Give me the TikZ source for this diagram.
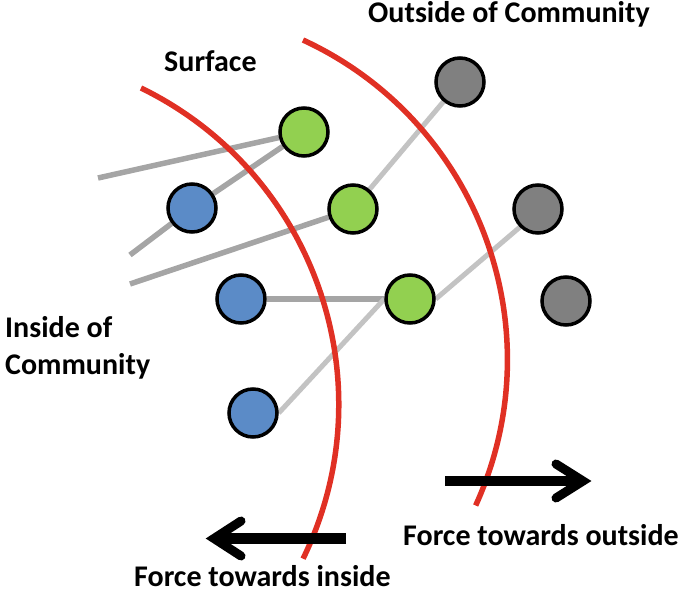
\documentclass[tikz,border=0pt]{standalone}
\usepackage{fontspec}
\setmainfont{Carlito}
\pgfdeclarelayer{bg}
\pgfsetlayers{bg,main}
\begin{document}
\begin{tikzpicture}[x=1pt,y=-1pt,
  nd/.style={circle,draw=black,line width=3.5pt,minimum size=48pt,inner sep=0pt},
  bluen/.style={nd,fill=blueC},
  greenn/.style={nd,fill=greenC},
  grayn/.style={nd,fill=grayC},
  darkedge/.style={draw=edgeD,line width=5.5pt},
  lightedge/.style={draw=edgeL,line width=5pt},
  boundary/.style={draw=redC,line width=5.5pt},
  force/.style={line width=10.5pt,black},
  barb/.style={line width=9pt,black,line cap=round,line join=miter},
  lbl/.style={font=\bfseries\fontsize{30}{37}\selectfont,inner sep=0pt,anchor=base west}]
\definecolor{blueC}{RGB}{91,139,199}
\definecolor{greenC}{RGB}{146,208,80}
\definecolor{grayC}{RGB}{128,128,128}
\definecolor{edgeD}{RGB}{165,165,165}
\definecolor{edgeL}{RGB}{195,195,195}
\definecolor{redC}{RGB}{224,48,36}
\useasboundingbox (0,0) rectangle (685,593);
% nodes
\node[grayn]  (gr1) at (460,82)  {};
\node[greenn] (g1)  at (304,132) {};
\node[bluen]  (b1)  at (192,208) {};
\node[greenn] (g2)  at (353,209) {};
\node[grayn]  (gr2) at (538,209) {};
\node[bluen]  (b2)  at (241,299) {};
\node[greenn] (g3)  at (410,299) {};
\node[grayn]  (gr3) at (566,301) {};
\node[bluen]  (b3)  at (253,413) {};
\coordinate (e1) at (98,178);
\coordinate (e2) at (130,255);
\coordinate (e3) at (130,284);
\begin{pgfonlayer}{bg}
% edges
\path[darkedge] (g1) -- (e1);
\path[darkedge] (g1) -- (b1);
\path[darkedge] (b1) -- (e2);
\path[darkedge] (g2) -- (e3);
\path[lightedge] (g2) -- (gr1);
\path[darkedge] (b2.east) -- (g3.west);
\path[lightedge] (g3.west) -- (b3.east);
\path[lightedge] (g3.east) -- (gr2.south west);
% boundaries
\path[boundary] (141,88) arc[start angle=-64, end angle=26, radius=352];
\path[boundary] (303,40) arc[start angle=-65.2, end angle=24.5, radius=352];
\end{pgfonlayer}
% force arrows
\coordinate (ro1) at (445,481);
\coordinate (ro2) at (580,481);
\coordinate (rt) at (583,481);
\coordinate (ru) at (556,464);
\coordinate (rd) at (556,498);
\draw[force] (ro1) -- (ro2);
\draw[barb] (ru) -- (rt) -- (rd);
\coordinate (li1) at (346,538.5);
\coordinate (li2) at (218,538.5);
\coordinate (lt) at (214,538.5);
\coordinate (lu) at (241,521);
\coordinate (ld) at (241,556);
\draw[force] (li1) -- (li2);
\draw[barb] (lu) -- (lt) -- (ld);
% labels
\node[lbl] (t1) at (368,23) {Outside of Community};
\node[lbl] (t2) at (164,72) {Surface};
\node[lbl,align=left] (t3) at (5,374) {Inside of\\Community};
\node[lbl] (t4) at (403,545) {Force towards outside};
\node[lbl] (t5) at (134,586) {Force towards inside};
\end{tikzpicture}
\end{document}
